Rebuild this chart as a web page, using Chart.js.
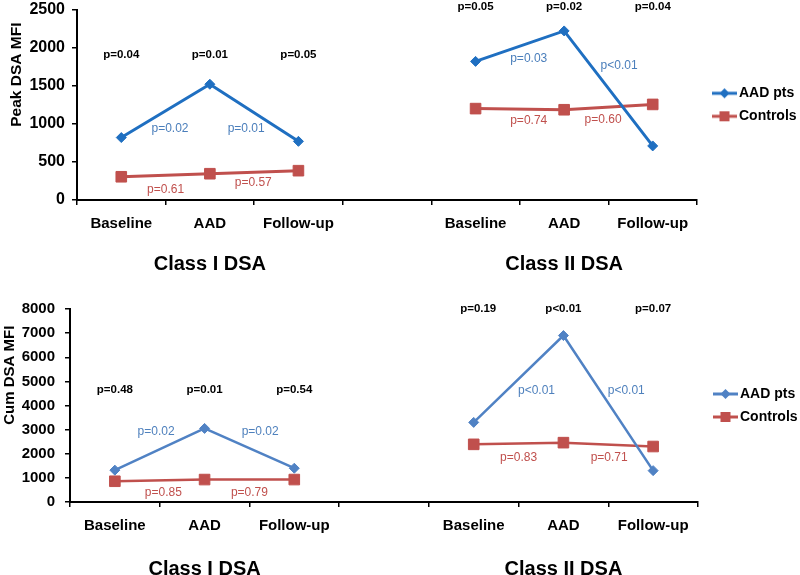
<!DOCTYPE html>
<html>
<head>
<meta charset="utf-8">
<script src="https://cdn.jsdelivr.net/npm/chart.js@4.4.1/dist/chart.umd.min.js"></script>
<style>
  html, body { margin: 0; padding: 0; background: #fff; }
  body { width: 800px; height: 575px; overflow: hidden; position: relative; }
  .panel { position: absolute; left: 0; width: 800px; }
</style>
</head>
<body>
<div class="panel" style="top:-7px;height:297px"><canvas id="peak"></canvas></div>
<div class="panel" style="top:290px;height:300px"><canvas id="cum"></canvas></div>
<script>
// categories (index 3 is the gap between Class I and Class II)
const categories = ['Baseline', 'AAD', 'Follow-up', '', 'Baseline', 'AAD', 'Follow-up'];
const classTitles = ['', 'Class I DSA', '', '', '', 'Class II DSA', ''];

// Peak DSA MFI
const peakAad = [820, 1520, 770, null, 1820, 2220, 710];
const peakControls = [305, 345, 385, null, 1200, 1185, 1255];
const peakTicks = [0, 500, 1000, 1500, 2000, 2500];

// Cum DSA MFI
const cumAad = [1320, 3050, 1400, null, 3300, 6900, 1300];
const cumControls = [860, 930, 930, null, 2390, 2460, 2300];
const cumTicks = [0, 1000, 2000, 3000, 4000, 5000, 6000, 7000, 8000];

// p-value annotations: text, category position, value position
const peakGroupP = ['p=0.04', 'p=0.01', 'p=0.05', 'p=0.05', 'p=0.02', 'p=0.04'];
const peakGroupAt = [0, 1, 2, 4, 5, 6];
const peakGroupY = [1900, 1900, 1900, 2540, 2540, 2540];
const peakAadP = ['p=0.02', 'p=0.01', 'p=0.03', 'p<0.01'];
const peakAadAt = [0.55, 1.41, 4.6, 5.62];
const peakAadY = [937, 937, 1862, 1758];
const peakCtrlP = ['p=0.61', 'p=0.57', 'p=0.74', 'p=0.60'];
const peakCtrlAt = [0.5, 1.49, 4.6, 5.44];
const peakCtrlY = [130, 221, 1042, 1055];

const cumGroupP = ['p=0.48', 'p=0.01', 'p=0.54', 'p=0.19', 'p<0.01', 'p=0.07'];
const cumGroupAt = [0, 1, 2, 4.05, 5, 6];
const cumGroupY = [4670, 4670, 4670, 8000, 8000, 8000];
const cumAadP = ['p=0.02', 'p=0.02', 'p<0.01', 'p<0.01'];
const cumAadAt = [0.46, 1.62, 4.7, 5.7];
const cumAadY = [2900, 2900, 4625, 4625];
const cumCtrlP = ['p=0.85', 'p=0.79', 'p=0.83', 'p=0.71'];
const cumCtrlAt = [0.54, 1.5, 4.5, 5.51];
const cumCtrlY = [400, 400, 1834, 1834];

const FONT = "'Liberation Sans', Arial, sans-serif";
const RED = '#c0504d';

function legendImage(color, style) {
    const c = document.createElement('canvas');
    c.width = 36;
    c.height = 14;
    const g = c.getContext('2d');
    g.strokeStyle = color;
    g.fillStyle = color;
    g.lineWidth = 3;
    g.beginPath();
    g.moveTo(11, 7);
    g.lineTo(36, 7);
    g.stroke();
    g.beginPath();
    if (style === 'rectRot') {
        g.moveTo(23.5, 2); g.lineTo(28.5, 7); g.lineTo(23.5, 12); g.lineTo(18.5, 7);
    } else {
        g.rect(18.5, 2, 10, 10);
    }
    g.closePath();
    g.fill();
    return c;
}

function pLabels(groups) {
    return {
        id: 'pLabels',
        afterDatasetsDraw(chart) {
            const { ctx, scales: { x, y } } = chart;
            ctx.save();
            ctx.textAlign = 'center';
            ctx.textBaseline = 'middle';
            groups.forEach(g => {
                ctx.fillStyle = g.color;
                ctx.font = g.font;
                g.text.forEach((t, i) => {
                    ctx.fillText(t, x.getPixelForValue(g.at[i]), y.getPixelForValue(g.y[i]));
                });
            });
            ctx.restore();
        }
    };
}

function makePanel(id, p) {
    const datasets = [{
        label: 'AAD pts',
        data: p.aad,
        borderColor: p.blue,
        backgroundColor: p.blue,
        borderWidth: p.lineWidth,
        pointStyle: 'rectRot',
        pointRadius: 5,
        pointBorderWidth: 1,
        spanGaps: false
    }, {
        label: 'Controls',
        data: p.controls,
        borderColor: RED,
        backgroundColor: RED,
        borderWidth: p.lineWidth,
        pointStyle: 'rect',
        pointRadius: 7.5,
        pointBorderWidth: 1,
        spanGaps: false
    }];

    return new Chart(document.getElementById(id), {
        type: 'line',
        data: { labels: categories, datasets },
        options: {
            responsive: true,
            maintainAspectRatio: false,
            animation: false,
            layout: { padding: { top: p.padTop, left: 0, right: 0, bottom: 0 } },
            plugins: {
                tooltip: { enabled: false },
                legend: {
                    position: 'right',
                    fullSize: false,
                    align: 'center',
                    maxWidth: p.legendWidth,
                    labels: {
                        usePointStyle: true,
                        pointStyleWidth: 26,
                        padding: 9,
                        color: '#000',
                        font: { family: FONT, size: 14, weight: 'bold' },
                        generateLabels: chart => chart.data.datasets.map((ds, i) => ({
                            text: ds.label,
                            pointStyle: legendImage(ds.borderColor, ds.pointStyle),
                            fillStyle: ds.borderColor,
                            strokeStyle: ds.borderColor,
                            lineWidth: 0,
                            hidden: false,
                            datasetIndex: i
                        }))
                    }
                }
            },
            scales: {
                x: {
                    type: 'category',
                    position: 'bottom',
                    weight: 0,
                    offset: true,
                    afterFit: s => { s.height = 32; },
                    border: { display: true, color: '#000', width: 2 },
                    grid: {
                        offset: true,
                        drawOnChartArea: false,
                        drawTicks: true,
                        tickLength: 5,
                        color: '#000',
                        lineWidth: 1.5
                    },
                    ticks: {
                        autoSkip: false,
                        maxRotation: 0,
                        padding: 10,
                        color: '#000',
                        font: { family: FONT, size: 15, weight: 'bold' }
                    }
                },
                x2: {
                    type: 'category',
                    labels: classTitles,
                    position: 'bottom',
                    weight: 1,
                    offset: true,
                    afterFit: s => { s.height = p.titleAxisHeight; },
                    border: { display: false },
                    grid: { display: false, drawTicks: false },
                    ticks: {
                        autoSkip: false,
                        maxRotation: 0,
                        padding: p.titlePad,
                        color: '#000',
                        font: { family: FONT, size: 20, weight: 'bold' }
                    }
                },
                y: {
                    min: 0,
                    max: p.ticks[p.ticks.length - 1],
                    afterFit: s => { s.width = p.yWidth; },
                    afterBuildTicks: s => { s.ticks = p.ticks.map(v => ({ value: v })); },
                    border: { display: true, color: '#000', width: 2 },
                    grid: {
                        drawOnChartArea: false,
                        drawTicks: true,
                        tickLength: 5,
                        color: '#000',
                        lineWidth: 1.5
                    },
                    ticks: {
                        padding: p.yTickPad,
                        color: '#000',
                        callback: v => String(v),
                        font: { family: FONT, size: p.yTickSize, weight: 'bold' }
                    },
                    title: {
                        display: true,
                        text: p.yTitle,
                        align: 'end',
                        color: '#000',
                        padding: { top: p.yTitlePad, bottom: 0 },
                        font: { family: FONT, size: p.yTitleSize, weight: 'bold' }
                    }
                }
            }
        },
        plugins: [pLabels(p.labels)]
    });
}

makePanel('peak', {
    aad: peakAad,
    controls: peakControls,
    ticks: peakTicks,
    blue: '#1f6fc1',
    lineWidth: 3,
    padTop: 0,
    legendWidth: 103,
    titleAxisHeight: 58,
    titlePad: 20,
    yWidth: 77,
    yTickPad: 7,
    yTickSize: 16,
    yTitle: 'Peak DSA MFI   ',
    yTitleSize: 15.5,
    yTitlePad: 7,
    labels: [
        { text: peakGroupP, at: peakGroupAt, y: peakGroupY, color: '#000', font: `bold 11.5px ${FONT}` },
        { text: peakAadP, at: peakAadAt, y: peakAadY, color: '#4a7ebb', font: `12px ${FONT}` },
        { text: peakCtrlP, at: peakCtrlAt, y: peakCtrlY, color: RED, font: `12px ${FONT}` }
    ]
});

makePanel('cum', {
    aad: cumAad,
    controls: cumControls,
    ticks: cumTicks,
    blue: '#5082c4',
    lineWidth: 2.5,
    padTop: 7,
    legendWidth: 102,
    titleAxisHeight: 56,
    titlePad: 23,
    yWidth: 70,
    yTickPad: 10,
    yTickSize: 15,
    yTitle: 'Cum DSA MFI    ',
    yTitleSize: 15,
    yTitlePad: 1,
    labels: [
        { text: cumGroupP, at: cumGroupAt, y: cumGroupY, color: '#000', font: `bold 11.5px ${FONT}` },
        { text: cumAadP, at: cumAadAt, y: cumAadY, color: '#4f81bd', font: `12px ${FONT}` },
        { text: cumCtrlP, at: cumCtrlAt, y: cumCtrlY, color: RED, font: `12px ${FONT}` }
    ]
});
</script>
</body>
</html>
